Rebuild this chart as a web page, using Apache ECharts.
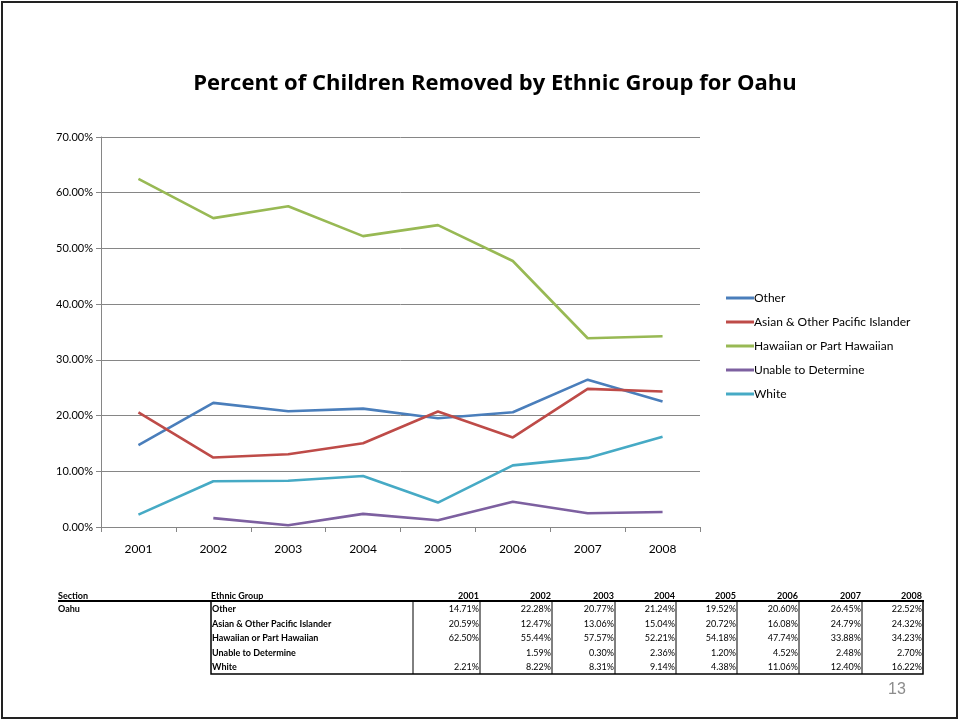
<!DOCTYPE html>
<html><head><meta charset="utf-8">
<script src="https://cdn.jsdelivr.net/npm/echarts@6/dist/echarts.min.js"></script>
<style>html,body{margin:0;padding:0;background:#fff;}#c{width:960px;height:721px;}</style>
</head><body><div id="c"></div>
<script>
var years = ['2001','2002','2003','2004','2005','2006','2007','2008'];
var seriesNames = ['Other','Asian & Other Pacific Islander','Hawaiian or Part Hawaiian','Unable to Determine','White'];
var other    = [14.71, 22.28, 20.77, 21.24, 19.52, 20.60, 26.45, 22.52];
var asian    = [20.59, 12.47, 13.06, 15.04, 20.72, 16.08, 24.79, 24.32];
var hawaiian = [62.50, 55.44, 57.57, 52.21, 54.18, 47.74, 33.88, 34.23];
var unable   = [null, 1.59, 0.30, 2.36, 1.20, 4.52, 2.48, 2.70];
var white    = [2.21, 8.22, 8.31, 9.14, 4.38, 11.06, 12.40, 16.22];
var colors = ['#4A7EBB','#BE4B48','#98B954','#7D60A0','#46AAC5'];
var sectionName = 'Oahu';
var pageNumber = '13';

var allSeries = [other, asian, hawaiian, unable, white];
var FONT = 'Lato, "Open Sans", sans-serif';

var chart = echarts.init(document.getElementById('c'), null, {renderer:'canvas'});

var g = [];
g.push({type:'rect', shape:{x:2,y:2,width:955,height:716}, style:{fill:'none', stroke:'#222', lineWidth:2}, z:0});
var colRight = [480, 552, 615, 676, 737, 799, 862, 923];
var headerY = 596, rowY0 = 609, rowStep = 14.6;
g.push({type:'text', x:58, y:headerY, style:{text:'Section', font:'bold 9px '+FONT, fill:'#000', textVerticalAlign:'middle'}});
g.push({type:'text', x:211, y:headerY, style:{text:'Ethnic Group', font:'bold 9px '+FONT, fill:'#000', textVerticalAlign:'middle'}});
years.forEach(function(y,i){
  g.push({type:'text', x:colRight[i]-1, y:headerY, style:{text:y, font:'bold 9px '+FONT, fill:'#000', textAlign:'right', textVerticalAlign:'middle'}});
});
g.push({type:'line', shape:{x1:58,y1:601,x2:924,y2:601}, style:{stroke:'#000', lineWidth:2}});
g.push({type:'text', x:58, y:rowY0, style:{text:sectionName, font:'bold 9px '+FONT, fill:'#000', textVerticalAlign:'middle'}});
seriesNames.forEach(function(n,r){
  var yy = rowY0 + r*rowStep;
  g.push({type:'text', x:212, y:yy, style:{text:n, font:'bold 9px '+FONT, fill:'#000', textVerticalAlign:'middle'}});
  allSeries[r].forEach(function(v,i){
    if (v === null) return;
    g.push({type:'text', x:colRight[i]-1, y:yy, style:{text:v.toFixed(2)+'%', font:'9px '+FONT, fill:'#000', textAlign:'right', textVerticalAlign:'middle'}});
  });
});
g.push({type:'rect', shape:{x:211,y:601,width:712,height:73}, style:{fill:'none', stroke:'#000', lineWidth:1.5}});
[413].concat(colRight.slice(0,7)).forEach(function(x){
  g.push({type:'line', shape:{x1:x,y1:601,x2:x,y2:674}, style:{stroke:'#000', lineWidth:1}});
});
g.push({type:'text', x:897, y:690, style:{text:pageNumber, font:'16px "Liberation Sans", Arial, sans-serif', fill:'#8C8C8C', textAlign:'center', textVerticalAlign:'middle'}});

var option = {
  animation:false,
  backgroundColor:'#fff',
  color: colors,
  title:{
    text:'Percent of Children Removed by Ethnic Group for Oahu',
    left:490, top:68, textAlign:'center',
    textStyle:{fontFamily:'"Open Sans", Lato, sans-serif', fontWeight:'bold', fontSize:22, color:'#000'}
  },
  legend:{
    orient:'vertical', left:721, top:287,
    itemWidth:28, itemHeight:3, itemGap:12, icon:'rect',
    textStyle:{fontFamily:FONT, fontSize:12, color:'#000', padding:[0,0,0,-5]},
    data: seriesNames
  },
  grid:{left:101, right:260, top:137, bottom:194, containLabel:false},
  xAxis:{
    type:'category', data:years, boundaryGap:true,
    axisLine:{lineStyle:{color:'#868686', width:1}},
    axisTick:{show:true, length:5, lineStyle:{color:'#868686'}},
    axisLabel:{fontFamily:FONT, fontSize:12, color:'#000', margin:16}
  },
  yAxis:{
    type:'value', min:0, max:70, interval:10,
    axisLine:{show:true, lineStyle:{color:'#868686'}},
    axisTick:{show:true, length:5, lineStyle:{color:'#868686'}},
    splitLine:{lineStyle:{color:'#868686', width:1}},
    axisLabel:{fontFamily:FONT, fontSize:11, color:'#000', margin:8,
      formatter:function(v){return v.toFixed(2)+'%';}}
  },
  series: seriesNames.map(function(n,i){
    return {name:n, type:'line', data:allSeries[i], symbol:'none', showSymbol:false,
      connectNulls:false, lineStyle:{width:2.6, color:colors[i]}, itemStyle:{color:colors[i]}};
  }),
  graphic: g
};
chart.setOption(option);
</script></body></html>
